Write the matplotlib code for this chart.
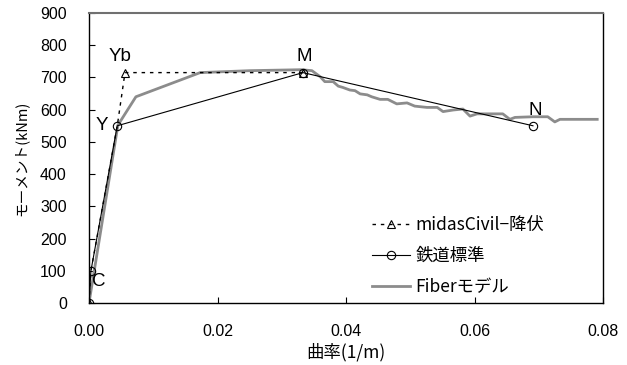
import matplotlib
matplotlib.use("Agg")
import matplotlib.pyplot as plt

plt.rcParams['font.family'] = ['Noto Sans CJK JP', 'DejaVu Sans']

# Fiber model moment-curvature curve
fiber_phi = [0.0, 0.0045, 0.0073, 0.0173, 0.025, 0.0330, 0.0347, 0.0360, 0.0367, 0.0380,
             0.0388, 0.0395, 0.0406, 0.0414, 0.0422, 0.0433, 0.0440, 0.0453, 0.0465,
             0.0479, 0.0495, 0.0507, 0.0526, 0.0542, 0.0551, 0.0567, 0.0582, 0.0593,
             0.0604, 0.0619, 0.0644, 0.0655, 0.0663, 0.0691, 0.0714, 0.0725, 0.0733, 0.0791]
fiber_m = [0, 552, 640, 715, 721, 724, 721, 702, 687, 687,
           673, 669, 661, 659, 649, 646, 640, 632, 632,
           618, 621, 611, 607, 607, 594, 599, 602, 580,
           587, 587, 587, 570, 576, 578, 578, 562, 570, 570]

# Railway standard (tri-linear) points: origin, C, Y, M, N
rail_phi = [0.0, 0.0003, 0.0044, 0.0333, 0.0691]
rail_m = [0, 100, 550, 715, 550]

# midasCivil bilinear yield model: origin, Y, Yb, M
midas_phi = [0.0, 0.0003, 0.0044, 0.0056, 0.0333]
midas_m = [0, 100, 550, 715, 715]
midas_marker_idx = [0, 3, 4]

LATIN = ['Liberation Sans', 'DejaVu Sans']

fig = plt.figure(figsize=(6.27, 3.65), dpi=100)
ax = fig.add_axes([89/627, 1 - 303/365, 514/627, 290/365])

ax.plot(fiber_phi, fiber_m, color='#8c8c8c', lw=2.0, label='Fiberモデル', zorder=2)
ax.plot(rail_phi, rail_m, color='black', lw=0.8, marker='o', ms=6,
        mfc='none', mec='black', mew=0.8, label='鉄道標準', zorder=3)
ax.plot(midas_phi, midas_m, color='black', lw=1.0, ls=(0, (2.5, 3.5)), marker='^', ms=6,
        markevery=midas_marker_idx, mfc='none', mec='black', mew=0.8,
        label='midasCivil−降伏', zorder=3)

# point labels
for txt, x, y, ha, va in [('Y', 0.0030, 550, 'right', 'center'),
                          ('Yb', 0.0049, 738, 'center', 'bottom'),
                          ('M', 0.0335, 738, 'center', 'bottom'),
                          ('N', 0.0694, 570, 'center', 'bottom'),
                          ('C', 0.0004, 68, 'left', 'center')]:
    ax.text(x, y, txt, ha=ha, va=va, fontsize=13.5, family=LATIN)

ax.set_xlim(0, 0.08)
ax.set_ylim(0, 900)
ax.set_xticks([0, 0.02, 0.04, 0.06, 0.08])
ax.set_xticklabels(['0.00', '0.02', '0.04', '0.06', '0.08'])
ax.set_yticks(range(0, 1000, 100))
ax.tick_params(direction='in', length=4, width=0.8, labelsize=11.5, colors='black',
               labelfontfamily='Liberation Sans')
ax.tick_params(axis='x', pad=15)
ax.tick_params(axis='y', pad=16)

ax.spines['top'].set_color('#707070')
ax.spines['top'].set_linewidth(1.5)
for s in ['left', 'right', 'bottom']:
    ax.spines[s].set_color('black')
    ax.spines[s].set_linewidth(1.0)

ax.set_xlabel('曲率(1/m)', fontsize=12.5, labelpad=3)
ax.set_ylabel('モーメント(kNm)', fontsize=10.5, labelpad=8)

handles, labels = ax.get_legend_handles_labels()
order = [2, 1, 0]
ax.legend([handles[i] for i in order], [labels[i] for i in order],
          loc='upper left', bbox_to_anchor=((372 - 89) / 514, (303 - 216) / 290),
          frameon=False, borderpad=0, borderaxespad=0,
          fontsize=12.5, handlelength=2.2, labelspacing=0.75, handletextpad=0.3)

fig.savefig('out.png', dpi=100)
